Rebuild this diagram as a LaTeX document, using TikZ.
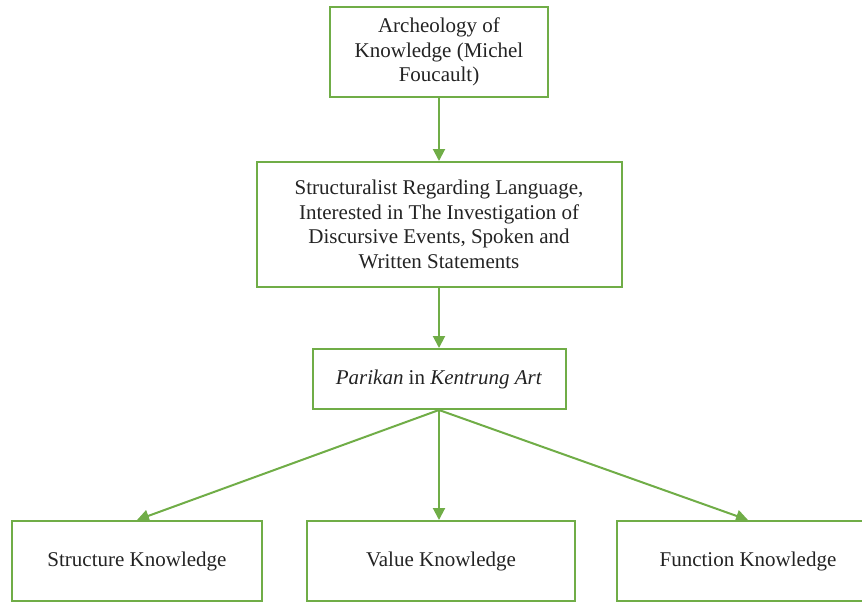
\documentclass[tikz,border=0pt]{standalone}
\usepackage{fontspec}
\setmainfont{Liberation Serif}
\usetikzlibrary{arrows.meta}
\definecolor{linegreen}{RGB}{112,173,71}
\definecolor{textgray}{RGB}{35,35,35}

\begin{document}
\begin{tikzpicture}[x=1pt, y=-1pt,
    box/.style={rectangle, draw=linegreen, line width=2pt, align=center, inner sep=0pt, text=textgray, font=\fontsize{21}{24.5}\selectfont},
    arrow/.style={-{Triangle[length=12pt,width=12pt]}, draw=linegreen, fill=linegreen, line width=2pt}
]
\useasboundingbox (0,0) rectangle (862,603);

% Top levels
\node[box, minimum width=218pt, minimum height=90pt] (arch) at (439,52) {Archeology of\\Knowledge (Michel\\Foucault)};
\node[box, minimum width=365pt, minimum height=125pt] (struct) at (439,224.5) {Structuralist Regarding Language,\\Interested in The Investigation of\\Discursive Events, Spoken and\\Written Statements};
\node[box, minimum width=253pt, minimum height=60pt] (parikan) at (439,379) {\textit{Parikan} in \textit{Kentrung Art}};

% Knowledge
\node[box, minimum width=250pt, minimum height=80pt] (structk) at (137,561) {Structure Knowledge};
\node[box, minimum width=268pt, minimum height=80pt] (valuek) at (441,561) {Value Knowledge};
\node[box, minimum width=262pt, minimum height=80pt] (funck) at (748,561) {Function Knowledge};

% Arrows
\draw[arrow] (arch) -- (struct);
\draw[arrow] (struct) -- (parikan);
\draw[arrow] (parikan.south) -- (structk.north);
\draw[arrow] (parikan.south) -- (parikan.south |- valuek.north);
\draw[arrow] (parikan.south) -- (funck.north);

\end{tikzpicture}
\end{document}
